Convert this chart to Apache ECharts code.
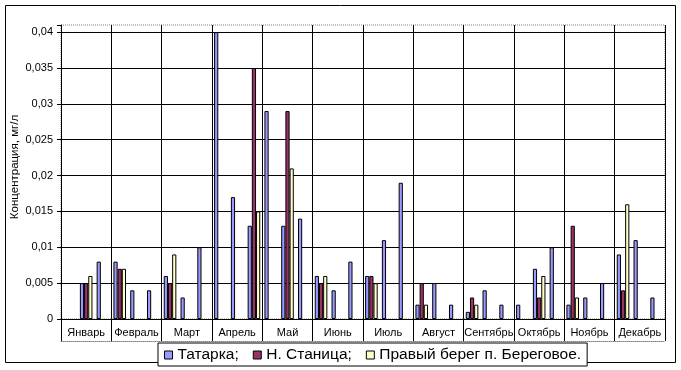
<!DOCTYPE html>
<html>
<head>
<meta charset="utf-8">
<script src="https://cdn.jsdelivr.net/npm/echarts@6/dist/echarts.min.js"></script>
<style>
html,body{margin:0;padding:0;background:#fff;}
#chart{width:681px;height:370px;}
</style>
</head>
<body>
<div id="chart"></div>
<script>
const months = ['Январь','Февраль','Март','Апрель','Май','Июнь','Июль','Август','Сентябрь','Октябрь','Ноябрь','Декабрь'];
const subPeriods = ['I','II','III'];
const seriesNames = ['Татарка;','Н. Станица;','Правый берег п. Береговое.'];
const tatarka = [null,0.005,0.008, 0.008,0.004,0.004, 0.006,0.003,0.010, 0.040,0.017,0.013, 0.029,0.013,0.014, 0.006,0.004,0.008, 0.006,0.011,0.019, 0.002,0.005,0.002, 0.001,0.004,0.002, 0.002,0.007,0.010, 0.002,0.003,0.005, 0.009,0.011,0.003];
const nStanitsa = [null,0.005,null, 0.007,null,null, 0.005,null,null, null,null,0.035, null,0.029,null, 0.005,null,null, 0.006,null,null, 0.005,null,null, 0.003,null,null, null,0.003,null, 0.013,null,null, 0.004,null,null];
const beregovoe = [null,0.006,null, 0.007,null,null, 0.009,null,null, null,null,0.015, null,0.021,null, 0.006,null,null, 0.005,null,null, 0.002,null,null, 0.002,null,null, null,0.006,null, 0.003,null,null, 0.016,null,null];
const yTicks = [0,0.005,0.01,0.015,0.02,0.025,0.03,0.035,0.04];

const categories = [];
months.forEach(m => subPeriods.forEach(s => categories.push(m + ' ' + s)));

const FONT = "'Liberation Sans', Arial, sans-serif";
const colors = ['#9999FF','#993366','#FFFFCC'];
const chart = echarts.init(document.getElementById('chart'), null, {renderer:'canvas'});

function mkSeries(name, data, color){
  return {
    name: name, type: 'bar', xAxisIndex: 0, data: data,
    barGap: '0%', barCategoryGap: '25%',
    itemStyle: {color: color, borderColor: '#000', borderWidth: 1},
    emphasis: {disabled: true}
  };
}

chart.setOption({
  animation: false,
  textStyle: {fontFamily: FONT},
  grid: {left: 61, right: 16, top: 25, bottom: 51, containLabel: false, outerBoundsMode: 'none',
         show: true, borderColor: '#808080', borderWidth: 1, borderType: 'dotted'},
  graphic: [{
    type: 'rect', z: 0, silent: true,
    shape: {x: 5.5, y: 5.5, width: 670, height: 357},
    style: {fill: 'none', stroke: '#000', lineWidth: 1}
  }],
  legend: {
    left: 158, top: 343,
    data: seriesNames,
    icon: 'rect', itemWidth: 8, itemHeight: 8, itemGap: 14,
    itemStyle: {borderColor: '#000', borderWidth: 1},
    textStyle: {fontFamily: FONT, fontSize: 15.5, color: '#000'},
    backgroundColor: '#fff', borderColor: '#000', borderWidth: 1,
    padding: [4, 6, 3, 6]
  },
  xAxis: [
    {
      type: 'category', data: categories, boundaryGap: true,
      axisLine: {show: true, lineStyle: {color: '#000', width: 1}},
      axisTick: {show: false},
      axisLabel: {show: false},
      splitLine: {show: true, interval: (i) => i % 3 === 0, lineStyle: {color: '#000', width: 1}}
    },
    {
      type: 'category', data: months, boundaryGap: true, position: 'bottom',
      axisLine: {show: true, lineStyle: {color: '#000', width: 1}},
      axisTick: {show: true, interval: 0, length: 22, lineStyle: {color: '#000'}},
      axisLabel: {show: true, interval: 0, margin: 8, fontSize: 11, color: '#000', fontFamily: FONT},
      splitLine: {show: false}
    },
    {
      type: 'category', data: months, boundaryGap: true, position: 'bottom', offset: 22,
      axisLine: {show: true, lineStyle: {color: '#808080', width: 1, type: 'dotted'}},
      axisTick: {show: false}, axisLabel: {show: false}, splitLine: {show: false}
    }
  ],
  yAxis: {
    type: 'value', min: yTicks[0], max: 0.041, interval: 0.005,
    name: 'Концентрация, мг/л', nameLocation: 'middle', nameGap: 40, nameMoveOverlap: false,
    nameTextStyle: {fontFamily: FONT, fontSize: 11.5, color: '#000', padding: [0, 0, 0, 10]},
    axisLine: {show: true, lineStyle: {color: '#000'}},
    axisTick: {show: true, length: 4, lineStyle: {color: '#000'}},
    axisLabel: {
      margin: 8, fontSize: 11, color: '#000', fontFamily: FONT,
      formatter: (v) => {
        const hit = yTicks.find(t => Math.abs(t - v) < 1e-9);
        return hit === undefined ? '' : String(hit).replace('.', ',');
      }
    },
    splitLine: {show: true, showMaxLine: false, lineStyle: {color: '#000', width: 1}}
  },
  series: [
    mkSeries(seriesNames[0], tatarka, colors[0]),
    mkSeries(seriesNames[1], nStanitsa, colors[1]),
    mkSeries(seriesNames[2], beregovoe, colors[2])
  ]
});
</script>
</body>
</html>
